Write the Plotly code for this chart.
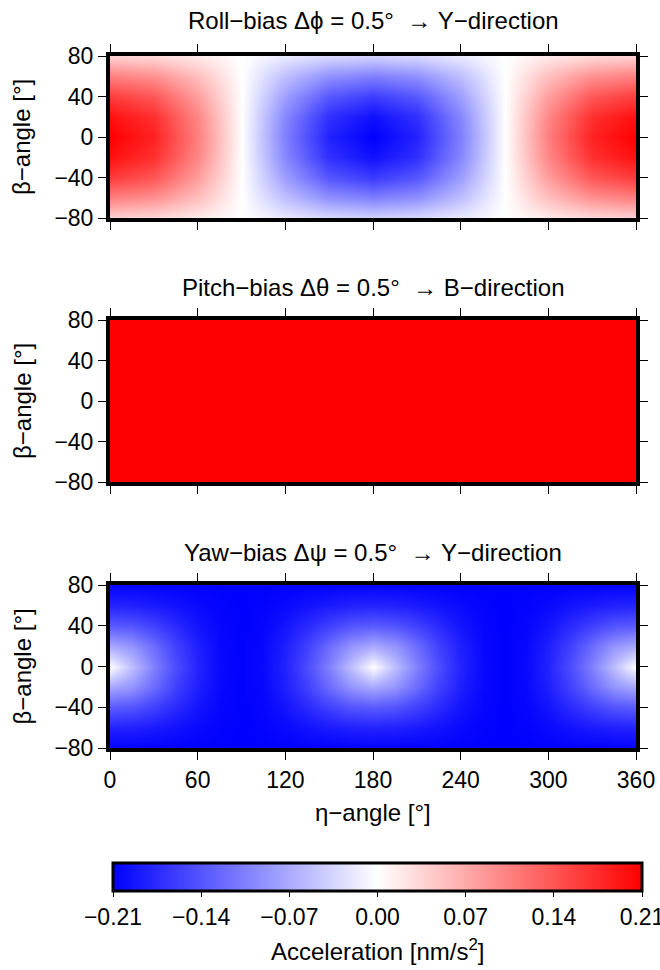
import plotly.graph_objects as go

# ---------------- data ----------------
eta_roll = [0, 30, 60, 90, 120, 150, 180, 210, 240, 270, 300, 330, 360]
beta = [-80, -60, -40, -20, 0, 20, 40, 60, 80]

roll_z = [
    [0.037, 0.032, 0.018, 0, -0.018, -0.032, -0.037, -0.032, -0.018, 0, 0.018, 0.032, 0.037],
    [0.105, 0.091, 0.053, 0, -0.053, -0.091, -0.105, -0.091, -0.053, 0, 0.053, 0.091, 0.105],
    [0.161, 0.139, 0.080, 0, -0.080, -0.139, -0.161, -0.139, -0.080, 0, 0.080, 0.139, 0.161],
    [0.197, 0.171, 0.099, 0, -0.099, -0.171, -0.197, -0.171, -0.099, 0, 0.099, 0.171, 0.197],
    [0.210, 0.182, 0.105, 0, -0.105, -0.182, -0.210, -0.182, -0.105, 0, 0.105, 0.182, 0.210],
    [0.197, 0.171, 0.099, 0, -0.099, -0.171, -0.197, -0.171, -0.099, 0, 0.099, 0.171, 0.197],
    [0.161, 0.139, 0.080, 0, -0.080, -0.139, -0.161, -0.139, -0.080, 0, 0.080, 0.139, 0.161],
    [0.105, 0.091, 0.053, 0, -0.053, -0.091, -0.105, -0.091, -0.053, 0, 0.053, 0.091, 0.105],
    [0.037, 0.032, 0.018, 0, -0.018, -0.032, -0.037, -0.032, -0.018, 0, 0.018, 0.032, 0.037],
]

eta_pitch = [0, 360]
beta_pitch = [-80, 80]
pitch_z = [
    [0.21, 0.21],
    [0.21, 0.21],
]

eta_yaw = [0, 15, 30, 45, 60, 75, 90, 105, 120, 135, 150, 165, 180,
           195, 210, 225, 240, 255, 270, 285, 300, 315, 330, 345, 360]
yaw_z = [
    [-0.207, -0.207, -0.208, -0.208, -0.209, -0.210, -0.210, -0.210, -0.209, -0.208, -0.208, -0.207, -0.207,
     -0.207, -0.208, -0.208, -0.209, -0.210, -0.210, -0.210, -0.209, -0.208, -0.208, -0.207, -0.207],
    [-0.182, -0.184, -0.189, -0.196, -0.203, -0.208, -0.210, -0.208, -0.203, -0.196, -0.189, -0.184, -0.182,
     -0.184, -0.189, -0.196, -0.203, -0.208, -0.210, -0.208, -0.203, -0.196, -0.189, -0.184, -0.182],
    [-0.135, -0.141, -0.157, -0.176, -0.194, -0.206, -0.210, -0.206, -0.194, -0.176, -0.157, -0.141, -0.135,
     -0.141, -0.157, -0.176, -0.194, -0.206, -0.210, -0.206, -0.194, -0.176, -0.157, -0.141, -0.135],
    [-0.072, -0.088, -0.122, -0.157, -0.185, -0.204, -0.210, -0.204, -0.185, -0.157, -0.122, -0.088, -0.072,
     -0.088, -0.122, -0.157, -0.185, -0.204, -0.210, -0.204, -0.185, -0.157, -0.122, -0.088, -0.072],
    [0.000, -0.054, -0.105, -0.148, -0.182, -0.203, -0.210, -0.203, -0.182, -0.148, -0.105, -0.054, 0.000,
     -0.054, -0.105, -0.148, -0.182, -0.203, -0.210, -0.203, -0.182, -0.148, -0.105, -0.054, 0.000],
    [-0.072, -0.088, -0.122, -0.157, -0.185, -0.204, -0.210, -0.204, -0.185, -0.157, -0.122, -0.088, -0.072,
     -0.088, -0.122, -0.157, -0.185, -0.204, -0.210, -0.204, -0.185, -0.157, -0.122, -0.088, -0.072],
    [-0.135, -0.141, -0.157, -0.176, -0.194, -0.206, -0.210, -0.206, -0.194, -0.176, -0.157, -0.141, -0.135,
     -0.141, -0.157, -0.176, -0.194, -0.206, -0.210, -0.206, -0.194, -0.176, -0.157, -0.141, -0.135],
    [-0.182, -0.184, -0.189, -0.196, -0.203, -0.208, -0.210, -0.208, -0.203, -0.196, -0.189, -0.184, -0.182,
     -0.184, -0.189, -0.196, -0.203, -0.208, -0.210, -0.208, -0.203, -0.196, -0.189, -0.184, -0.182],
    [-0.207, -0.207, -0.208, -0.208, -0.209, -0.210, -0.210, -0.210, -0.209, -0.208, -0.208, -0.207, -0.207,
     -0.207, -0.208, -0.208, -0.209, -0.210, -0.210, -0.210, -0.209, -0.208, -0.208, -0.207, -0.207],
]

panel_titles = [
    "Roll\u2212bias \u0394\u03d5 = 0.5\u00b0  \u2192 Y\u2212direction",
    "Pitch\u2212bias \u0394\u03b8 = 0.5\u00b0  \u2192 B\u2212direction",
    "Yaw\u2212bias \u0394\u03c8 = 0.5\u00b0  \u2192 Y\u2212direction",
]
x_ticks = [0, 60, 120, 180, 240, 300, 360]
y_ticks = [-80, -40, 0, 40, 80]
cbar_ticks = [-0.21, -0.14, -0.07, 0.00, 0.07, 0.14, 0.21]
x_label = "\u03b7\u2212angle [\u00b0]"
y_label = "\u03b2\u2212angle [\u00b0]"
cbar_label = "Acceleration [nm/s<sup>2</sup>]"

# ---------------- layout geometry ----------------
W, H = 660, 970
FONT = "Liberation Sans, Arial, Helvetica, sans-serif"
FS_TICK = 23
FS_TITLE = 24

def py(px):
    return 1 - px / H

x_dom = [110 / W, 636 / W]
panels_px = [(56, 218), (320, 482), (585, 748)]

fig = go.Figure()
datasets = [(eta_roll, beta, roll_z), (eta_pitch, beta_pitch, pitch_z), (eta_yaw, beta, yaw_z)]
for i, (xs, ys, zs) in enumerate(datasets):
    n = i + 1
    fig.add_trace(go.Heatmap(
        x=xs, y=ys, z=zs, coloraxis="coloraxis", zsmooth="best",
        xaxis="x" if n == 1 else f"x{n}", yaxis="y" if n == 1 else f"y{n}",
        hoverinfo="skip",
    ))

axis_common = dict(
    showline=True, linewidth=4, linecolor="black", mirror="ticks",
    ticks="outside", ticklen=8, tickwidth=1, tickcolor="black",
    showgrid=False, zeroline=False,
    tickfont=dict(family=FONT, size=FS_TICK, color="black"),
)

layout = dict(
    width=W, height=H, margin=dict(l=0, r=0, t=0, b=0, pad=0, autoexpand=False),
    paper_bgcolor="white", plot_bgcolor="white",
    font=dict(family=FONT, size=FS_TICK, color="black"),
    showlegend=False,
    coloraxis=dict(
        cmin=-0.21, cmax=0.21,
        colorscale=[[0, "rgb(0,0,255)"], [0.5, "rgb(255,255,255)"], [1, "rgb(255,0,0)"]],
        colorbar=dict(
            orientation="h", lenmode="pixels", len=529, thickness=28,
            x=377.5 / W, xanchor="center", y=py(863), yanchor="top", ypad=0, xpad=0,
            outlinewidth=3, outlinecolor="black",
            ticks="outside", ticklen=5, tickwidth=1, tickcolor="black",
            tickvals=cbar_ticks, tickformat=".2f", ticklabeloverflow="allow",
            tickfont=dict(family=FONT, size=FS_TICK, color="black"),
        ),
    ),
)

for i, (top, bot) in enumerate(panels_px):
    n = i + 1
    xk = "xaxis" if n == 1 else f"xaxis{n}"
    yk = "yaxis" if n == 1 else f"yaxis{n}"
    xref = "x" if n == 1 else f"x{n}"
    yref = "y" if n == 1 else f"y{n}"
    layout[xk] = dict(axis_common, domain=x_dom, range=[0, 360], tickvals=x_ticks,
                      showticklabels=(n == 3), anchor=yref)
    layout[yk] = dict(axis_common, domain=[py(bot), py(top)], range=[-80, 80], tickvals=y_ticks,
                      anchor=xref)

fig.update_layout(**layout)

annotations = []
title_y = [20, 287, 552]
for t, ty in zip(panel_titles, title_y):
    annotations.append(dict(text=t, x=(110 + 636) / 2 / W, y=py(ty), xref="paper", yref="paper",
                            xanchor="center", yanchor="middle", showarrow=False,
                            font=dict(family=FONT, size=FS_TITLE, color="black")))
for top, bot in panels_px:
    annotations.append(dict(text=y_label, x=22 / W, y=py((top + bot) / 2), xref="paper", yref="paper",
                            xanchor="center", yanchor="middle", textangle=-90, showarrow=False,
                            font=dict(family=FONT, size=FS_TITLE, color="black")))
annotations.append(dict(text=x_label, x=(110 + 636) / 2 / W, y=py(812), xref="paper", yref="paper",
                        xanchor="center", yanchor="middle", showarrow=False,
                        font=dict(family=FONT, size=FS_TITLE, color="black")))
annotations.append(dict(text=cbar_label, x=377.5 / W, y=py(950), xref="paper", yref="paper",
                        xanchor="center", yanchor="middle", showarrow=False,
                        font=dict(family=FONT, size=FS_TITLE, color="black")))
fig.update_layout(annotations=annotations)

fig.write_html(
    "out.html",
    config={"displayModeBar": False},
    post_script="document.body.style.margin='0';document.body.style.overflow='hidden';",
)
